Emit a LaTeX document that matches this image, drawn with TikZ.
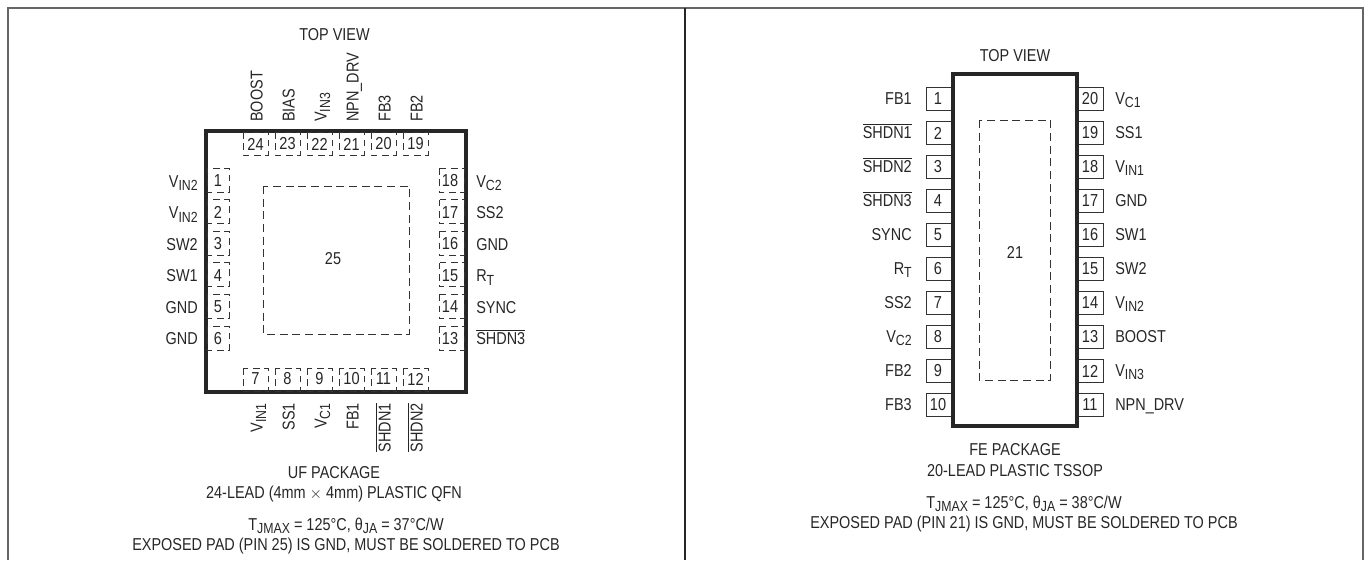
\documentclass[tikz,border=0pt]{standalone}
\usepackage{fontspec}
\setmainfont[FakeStretch=0.84]{Liberation Sans}
\tikzset{
  txt/.style={font=\fontsize{12.9}{15.4}\selectfont, inner sep=0pt, text=black!85},
  pinnum/.style={txt, font=\fontsize{13}{14}\selectfont},
  chip/.style={line width=2.5pt, black!85},
  frameline/.style={line width=1.2pt, black!60},
  pinbox/.style={draw, black!80, line width=0.7pt, fill=white},
  pindash/.style={draw, black!80, line width=0.7pt, dash pattern=on 5pt off 3.5pt},
  paddash/.style={draw, black!80, line width=0.7pt, dash pattern=on 6pt off 3.5pt},
}
\newcommand{\ovl}[1]{$\overline{\mbox{#1}}$}
\newcommand{\vsub}[2]{#1\raisebox{-0.4ex}{\fontsize{11}{11}\selectfont #2}}
\begin{document}
\begin{tikzpicture}[x=0.75pt,y=-0.75pt]
\useasboundingbox (0,0) rectangle (1366,560);
% frame
\draw[frameline] (8,560) -- (8,8) -- (1363,8) -- (1363,560);
\draw[black!85, line width=0.9pt] (685,8) -- (685,560);

% ---- QFN
\draw[chip] (206,131) rectangle (466,392);
\draw[paddash] (263,186) rectangle (409,334);
\node[txt] (padA) at (333,259) {25};
\node[txt] (topA) at (334.5,35) {TOP VIEW};
\foreach \n/\lab [count=\i from 0] in {1/\vsub{V}{IN2},2/\vsub{V}{IN2},3/SW2,4/SW1,5/GND,6/GND}{
  \draw[pindash] (207,{168+\i*31.6}) rectangle (229,{192+\i*31.6});
  \node[pinnum] (pinL\n) at (218,{181+\i*31.5}) {\n};
  \node[txt, anchor=base east] (labL\n) at (198,{187+\i*31.5}) {\lab};
}
\foreach \n/\lab [count=\i from 0] in {18/\vsub{V}{C2},17/SS2,16/GND,15/\vsub{R}{T},14/SYNC,13/\ovl{SHDN3}}{
  \draw[pindash] (439,{168+\i*31.6}) rectangle (464,{192+\i*31.6});
  \node[pinnum] (pinR\n) at (450,{181+\i*31.5}) {\n};
  \node[txt, anchor=base west] (labR\n) at (476,{187+\i*31.5}) {\lab};
}
\foreach \n/\lab [count=\i from 0] in {24/BOOST,23/BIAS,22/\vsub{V}{IN3},21/NPN\_DRV,20/FB3,19/FB2}{
  \draw[pindash] ({243+\i*32},132) rectangle ({268+\i*32},155);
  \node[pinnum] (pinT\n) at ({255.5+\i*32},144) {\n};
  \node[txt, rotate=90, anchor=base west] (labT\n) at ({262.5+\i*32},122) {\lab};
}
\foreach \n/\lab [count=\i from 0] in {7/\vsub{V}{IN1},8/SS1,9/\vsub{V}{C1},10/FB1,11/\ovl{SHDN1},12/\ovl{SHDN2}}{
  \draw[pindash] ({243+\i*32},368) rectangle ({268+\i*32},391);
  \node[pinnum] (pinB\n) at ({255.5+\i*32},379) {\n};
  \node[txt, rotate=90, anchor=base east] (labB\n) at ({262.5+\i*32},403) {\lab};
}
\node[txt, align=center] (pkgA) at (334,484.5) {UF PACKAGE\\24-LEAD (4mm $\times$ 4mm) PLASTIC QFN};
\node[txt, align=center] (thermA) at (346,536) {\vsub{T}{JMAX} = 125°C, θ\vsub{}{JA} = 37°C/W\\EXPOSED PAD (PIN 25) IS GND, MUST BE SOLDERED TO PCB};

% ---- TSSOP
\foreach \n/\lab [count=\i from 0] in {1/FB1,2/\ovl{SHDN1},3/\ovl{SHDN2},4/\ovl{SHDN3},5/SYNC,6/\vsub{R}{T},7/SS2,8/\vsub{V}{C2},9/FB2,10/FB3}{
  \draw[pinbox] (952,{87+\i*34}) -- (926,{87+\i*34}) -- (926,{110+\i*34}) -- (952,{110+\i*34});
  \node[pinnum] (pinC\n) at (938,{99+\i*34}) {\n};
  \node[txt, anchor=base east] (labC\n) at (912,{104+\i*34}) {\lab};
}
\foreach \n/\lab [count=\i from 0] in {20/\vsub{V}{C1},19/SS1,18/\vsub{V}{IN1},17/GND,16/SW1,15/SW2,14/\vsub{V}{IN2},13/BOOST,12/\vsub{V}{IN3},11/NPN\_DRV}{
  \draw[pinbox] (1078,{87+\i*34}) -- (1103,{87+\i*34}) -- (1103,{110+\i*34}) -- (1078,{110+\i*34});
  \node[pinnum] (pinD\n) at (1090,{99+\i*34}) {\n};
  \node[txt, anchor=base west] (labD\n) at (1115,{104+\i*34}) {\lab};
}
\draw[chip] (953,74) rectangle (1077,426);
\draw[paddash] (979,120) rectangle (1050,380);
\node[txt] (padB) at (1015,252) {21};
\node[txt] (topB) at (1015,56) {TOP VIEW};
\node[txt, align=center] (pkgB) at (1015,460) {FE PACKAGE\\20-LEAD PLASTIC TSSOP};
\node[txt, align=center] (thermB) at (1024,514) {\vsub{T}{JMAX} = 125°C, θ\vsub{}{JA} = 38°C/W\\EXPOSED PAD (PIN 21) IS GND, MUST BE SOLDERED TO PCB};
\end{tikzpicture}
\end{document}
